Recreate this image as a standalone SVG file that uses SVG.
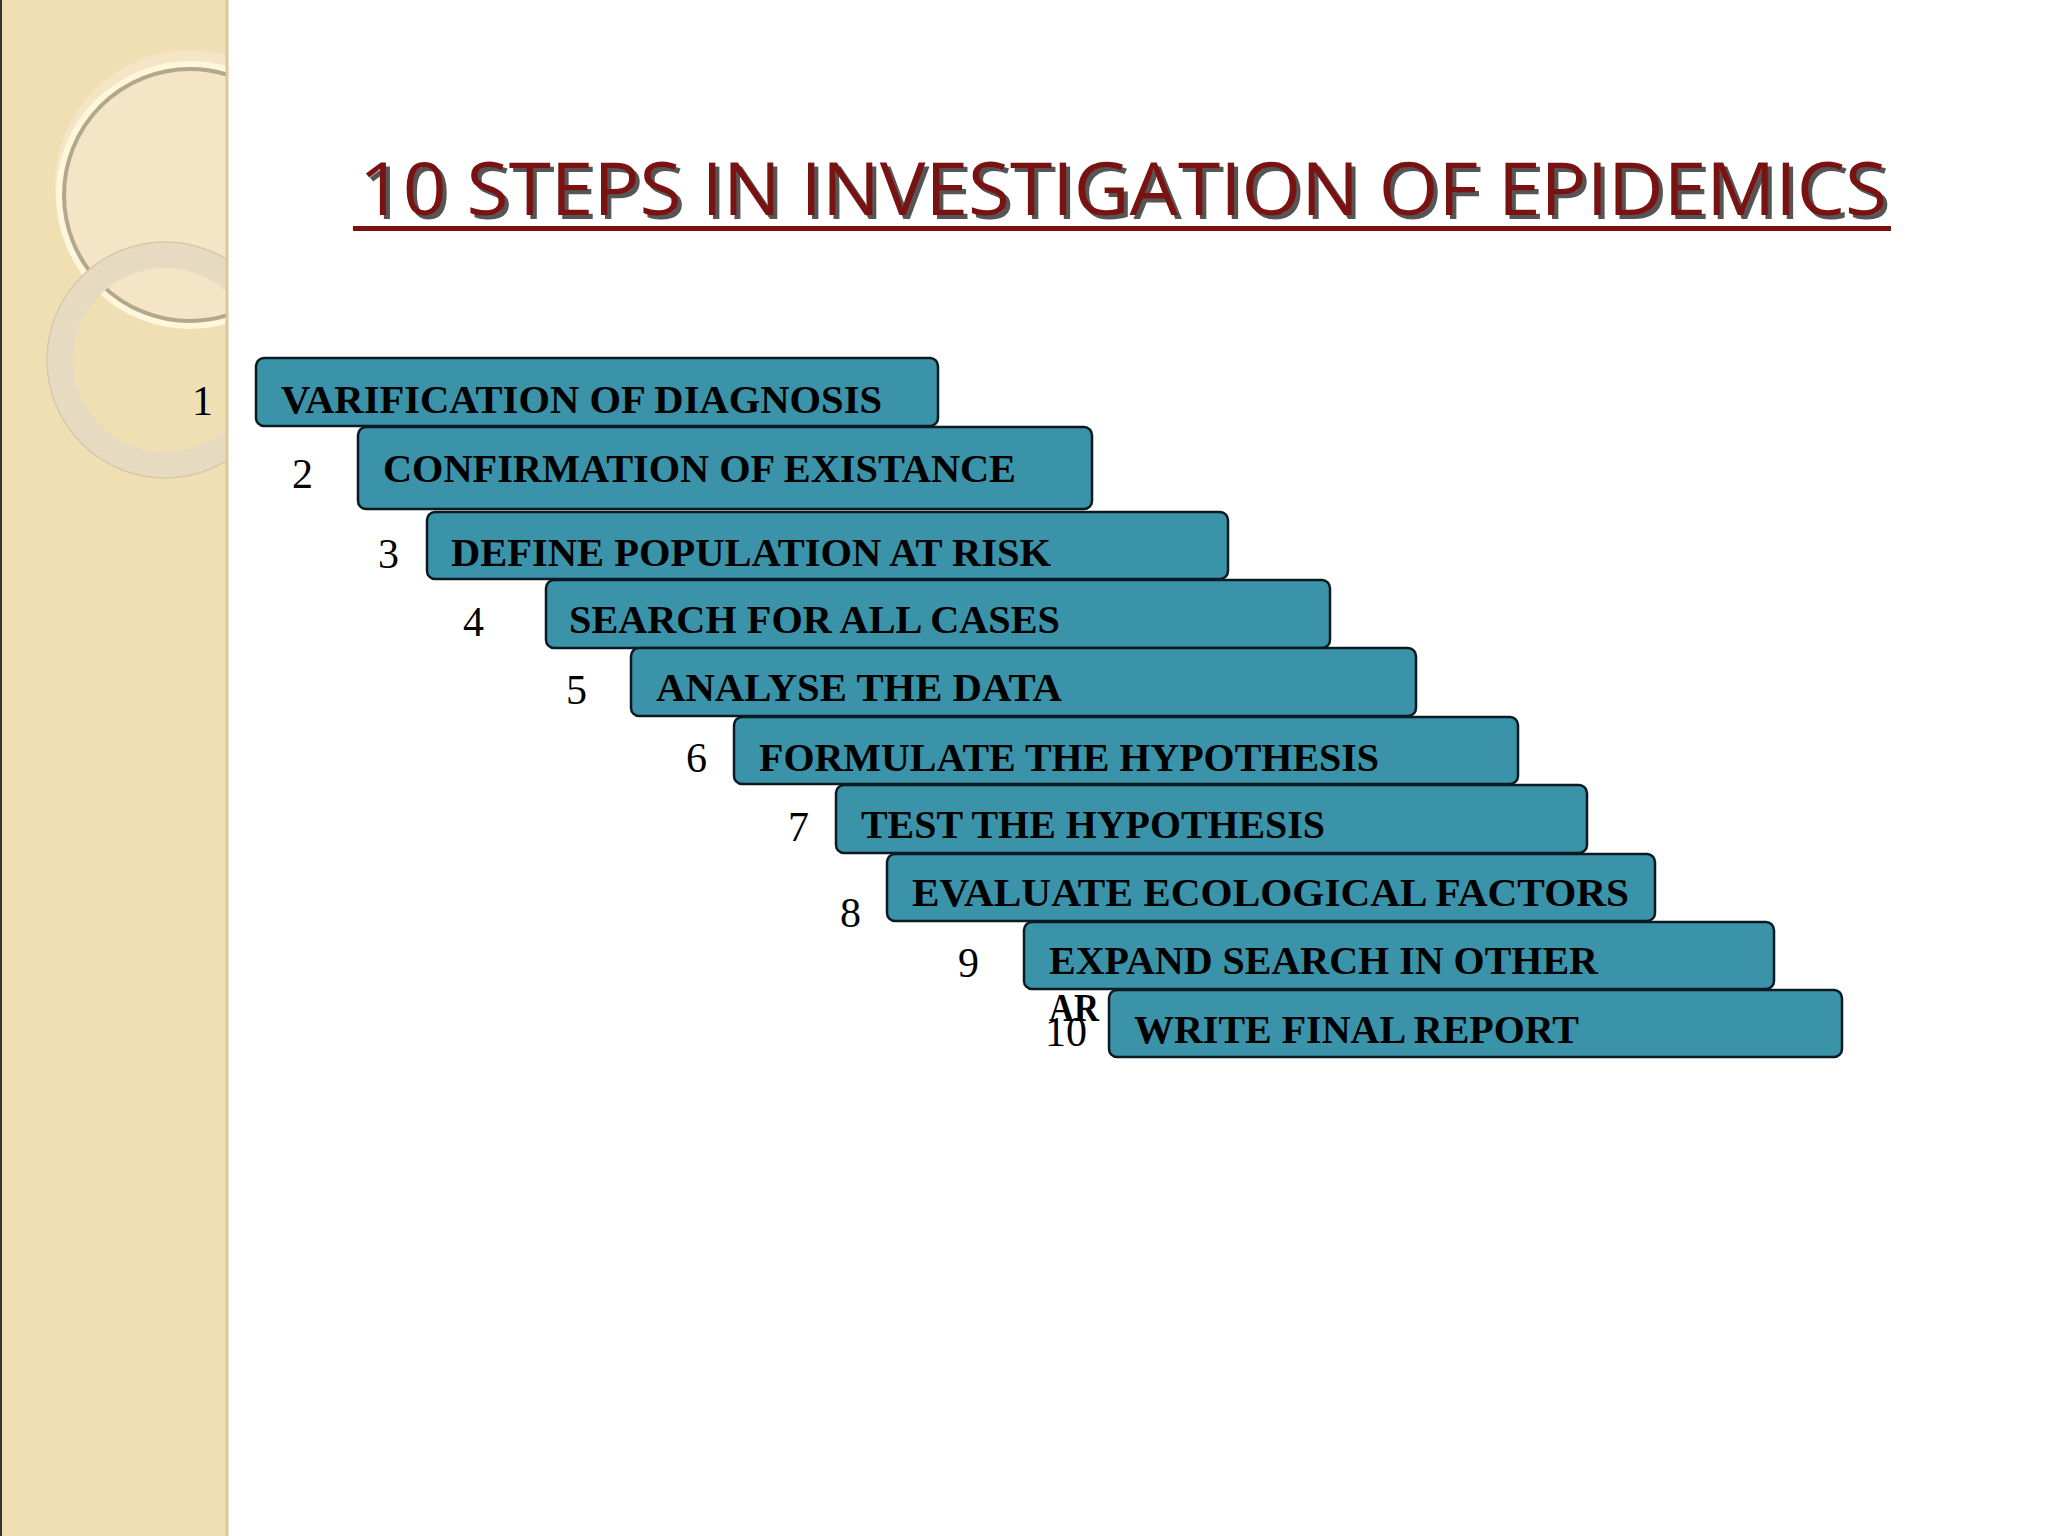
<svg xmlns="http://www.w3.org/2000/svg" width="2048" height="1536" viewBox="0 0 2048 1536">
<style>
.box{fill:#3a93a8;stroke:#0a1a20;stroke-width:2.5}
.t{font-family:"Liberation Serif",serif;font-weight:bold;font-size:40px;fill:#000}
.n{font-family:"Liberation Serif",serif;font-size:42px;fill:#000}
.ti{font-family:"Liberation Sans Narrow","Open Sans",sans-serif;font-size:74px}
</style>
<defs><clipPath id="sb"><rect x="0" y="0" width="227" height="1536"/></clipPath></defs>
<rect width="2048" height="1536" fill="#fff"/>
<g id="sidebar">
<rect x="0" y="0" width="227" height="1536" fill="#efdfb3"/>
<g clip-path="url(#sb)" fill="none">
<circle cx="190" cy="185" r="135" fill="#f5ead0" opacity="0.6"/>
<circle cx="190" cy="195" r="130" stroke="#fff6dc" stroke-width="8"/>
<circle cx="190" cy="195" r="126" stroke="#b3a78c" stroke-width="4"/>
<circle cx="165" cy="360" r="105" stroke="#e6dbc0" stroke-width="26"/>
<circle cx="165" cy="360" r="118" stroke="#d6c9a6" stroke-width="1.5"/>
</g>
<line x1="227" y1="0" x2="227" y2="1536" stroke="#d8c89a" stroke-width="3"/>
<line x1="1" y1="0" x2="1" y2="1536" stroke="#333" stroke-width="2"/>
</g>
<g id="title">
<text class="ti" x="363" y="219" fill="#555" textLength="1528" lengthAdjust="spacingAndGlyphs">10 STEPS IN INVESTIGATION OF EPIDEMICS</text>
<text class="ti" x="359" y="215" fill="#7a1212" textLength="1528" lengthAdjust="spacingAndGlyphs">10 STEPS IN INVESTIGATION OF EPIDEMICS</text>
<rect x="353" y="226" width="1538" height="5" fill="#7a1212"/>
</g>
<g id="connectors"></g>
<text class="t" x="1049" y="1021" textLength="50" lengthAdjust="spacingAndGlyphs">AR</text>
<g id="s1"><rect class="box" x="256" y="358" width="682" height="68" rx="8"/><text class="n" x="192" y="415">1</text><text class="t" x="281" y="413" textLength="601" lengthAdjust="spacingAndGlyphs">VARIFICATION OF DIAGNOSIS</text></g>
<g id="s2"><rect class="box" x="358" y="427" width="734" height="82" rx="8"/><text class="n" x="292" y="488" font-size="48">2</text><text class="t" x="383" y="482" textLength="633" lengthAdjust="spacingAndGlyphs">CONFIRMATION OF EXISTANCE</text></g>
<g id="s3"><rect class="box" x="427" y="512" width="801" height="67" rx="8"/><text class="n" x="378" y="568">3</text><text class="t" x="451" y="566" textLength="600" lengthAdjust="spacingAndGlyphs">DEFINE POPULATION AT RISK</text></g>
<g id="s4"><rect class="box" x="546" y="580" width="784" height="68" rx="8"/><text class="n" x="463" y="636">4</text><text class="t" x="569" y="633" textLength="491" lengthAdjust="spacingAndGlyphs">SEARCH FOR ALL CASES</text></g>
<g id="s5"><rect class="box" x="631" y="648" width="785" height="68" rx="8"/><text class="n" x="566" y="704">5</text><text class="t" x="656" y="701" textLength="406" lengthAdjust="spacingAndGlyphs">ANALYSE THE DATA</text></g>
<g id="s6"><rect class="box" x="734" y="717" width="784" height="67" rx="8"/><text class="n" x="686" y="772">6</text><text class="t" x="759" y="771" textLength="620" lengthAdjust="spacingAndGlyphs">FORMULATE THE HYPOTHESIS</text></g>
<g id="s7"><rect class="box" x="836" y="785" width="751" height="68" rx="8"/><text class="n" x="788" y="841">7</text><text class="t" x="861" y="838" textLength="464" lengthAdjust="spacingAndGlyphs">TEST THE HYPOTHESIS</text></g>
<g id="s8"><rect class="box" x="887" y="854" width="768" height="67" rx="8"/><text class="n" x="840" y="927">8</text><text class="t" x="912" y="906" textLength="717" lengthAdjust="spacingAndGlyphs">EVALUATE  ECOLOGICAL FACTORS</text></g>
<g id="s9"><rect class="box" x="1024" y="922" width="750" height="67" rx="8"/><text class="n" x="958" y="977">9</text><text class="t" x="1049" y="974" textLength="549" lengthAdjust="spacingAndGlyphs">EXPAND SEARCH IN OTHER</text></g>
<g id="s10"><text class="n" x="1045" y="1046">10</text><rect class="box" x="1109" y="990" width="733" height="67" rx="8"/><text class="t" x="1134" y="1043" textLength="445" lengthAdjust="spacingAndGlyphs">WRITE FINAL REPORT</text></g>
</svg>
